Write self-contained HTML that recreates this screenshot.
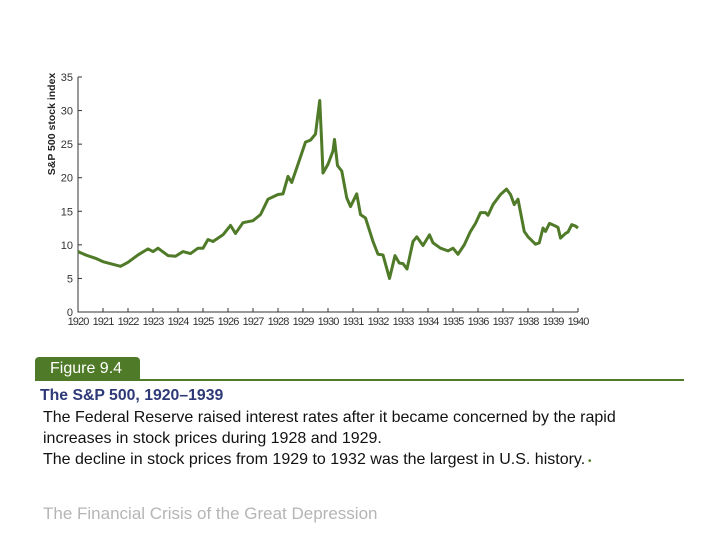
<!DOCTYPE html>
<html><head><meta charset="utf-8"><style>
body{margin:0;width:720px;height:540px;background:#fff;position:relative;overflow:hidden;font-family:"Liberation Sans",sans-serif}
.t{position:absolute;white-space:nowrap}
</style></head><body>
<svg width="720" height="340" style="position:absolute;left:0;top:0" id="chart"></svg>
<div class="t" style="left:35px;top:357px;width:105px;height:24px;background:#4f7a28;border-radius:4px 4px 0 0;color:#fff;font-size:16px;line-height:24px;padding-left:15px;box-sizing:border-box">Figure 9.4</div>
<div style="position:absolute;left:140px;top:379px;width:544px;height:2px;background:#4f7a28"></div>
<div class="t" style="left:40px;top:387px;font-size:15.8px;font-weight:bold;color:#2e3a78">The S&amp;P 500, 1920–1939</div>
<div class="t" style="left:43px;top:407px;font-size:16px;line-height:21px;color:#111">The Federal Reserve raised interest rates after it became concerned by the rapid<br>increases in stock prices during 1928 and 1929.<br>The decline in stock prices from 1929 to 1932 was the largest in U.S. history.<span style="color:#4f7a28;font-size:10px"> •</span></div>
<div class="t" style="left:43px;top:504px;font-size:17px;color:#b5b5b5">The Financial Crisis of the Great Depression</div>
<script>
const years=[1920,1920.3,1920.7,1921,1921.3,1921.7,1922,1922.4,1922.8,1923,1923.2,1923.6,1923.9,1924.2,1924.5,1924.8,1925,1925.2,1925.4,1925.8,1926.1,1926.3,1926.6,1927,1927.3,1927.6,1928,1928.2,1928.4,1928.55,1928.8,1929.1,1929.3,1929.5,1929.6,1929.67,1929.75,1929.8,1930,1930.2,1930.26,1930.38,1930.55,1930.75,1930.9,1931.15,1931.3,1931.5,1931.8,1932,1932.2,1932.46,1932.68,1932.85,1933,1933.16,1933.4,1933.55,1933.8,1934.06,1934.2,1934.5,1934.8,1935,1935.2,1935.45,1935.7,1935.9,1936.1,1936.3,1936.4,1936.6,1936.9,1937.14,1937.3,1937.45,1937.6,1937.85,1938,1938.3,1938.45,1938.6,1938.7,1938.86,1939.1,1939.2,1939.3,1939.5,1939.6,1939.75,1939.9,1940];
const values=[9,8.5,8,7.5,7.2,6.8,7.4,8.5,9.4,9,9.5,8.4,8.3,9,8.7,9.5,9.5,10.8,10.5,11.5,12.9,11.7,13.3,13.6,14.5,16.8,17.5,17.6,20.2,19.3,22,25.3,25.6,26.5,29.5,31.5,25,20.7,22,24,25.7,21.8,21,17,15.7,17.6,14.5,14,10.5,8.6,8.5,5,8.4,7.3,7.2,6.4,10.5,11.2,9.9,11.5,10.3,9.5,9.1,9.5,8.6,10,12,13.2,14.8,14.8,14.4,16,17.5,18.3,17.5,16,16.8,12,11.2,10.1,10.3,12.5,12,13.2,12.8,12.6,11,11.7,11.9,13,12.8,12.5];
const yTicks=[0,5,10,15,20,25,30,35];
const xTicks=[1920,1921,1922,1923,1924,1925,1926,1927,1928,1929,1930,1931,1932,1933,1934,1935,1936,1937,1938,1939,1940];
const svg=document.getElementById('chart'),NS='http://www.w3.org/2000/svg';
const X=v=>78+(v-1920)*25, Y=v=>312-v*(235/35);
function mk(t,a){const e=document.createElementNS(NS,t);for(const k in a)e.setAttribute(k,a[k]);svg.appendChild(e);return e;}
let ax=mk('path',{d:`M78 ${Y(35)}V312H578`,stroke:'#333',fill:'none','stroke-width':1});


yTicks.forEach(v=>{mk('line',{x1:78,x2:82,y1:Y(v),y2:Y(v),stroke:'#333'});
const t=mk('text',{x:73,y:Y(v)+4,'text-anchor':'end','font-size':11,fill:'#333','font-family':'Liberation Sans'});t.textContent=v;

});
xTicks.forEach(v=>{mk('line',{x1:X(v),x2:X(v),y1:312,y2:308,stroke:'#333'});
const t=mk('text',{x:X(v),y:325,'text-anchor':'middle','font-size':11,fill:'#333','font-family':'Liberation Sans','letter-spacing':'-0.9'});t.textContent=v;

});
const yt=mk('text',{transform:`translate(55,124) rotate(-90)`,'text-anchor':'middle','font-size':10.5,'font-weight':'bold',fill:'#222','font-family':'Liberation Sans'});yt.textContent='S&P 500 stock index';


const ln=mk('polyline',{points:years.map((y,i)=>X(y)+','+Y(values[i])).join(' '),fill:'none',stroke:'#4f7a28','stroke-width':3,'stroke-linejoin':'round'});


</script>
</body></html>
